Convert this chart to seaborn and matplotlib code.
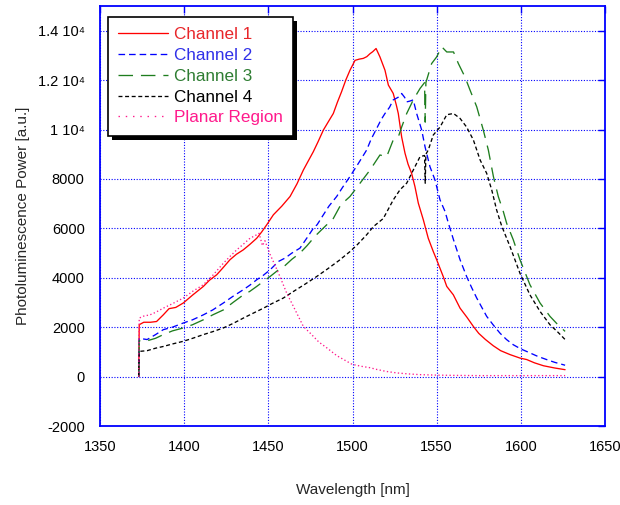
import matplotlib
matplotlib.use("Agg")
import matplotlib.pyplot as plt
from matplotlib.lines import Line2D
from matplotlib.patches import Rectangle
from matplotlib.ticker import FuncFormatter
import pandas as pd
import seaborn as sns

# ---- measured spectra: wavelength [nm] and photoluminescence power [a.u.] ----
wl_ch1 = [1373.0, 1373.3, 1376, 1380, 1383.6, 1387.6, 1391, 1395, 1399.5, 1405, 1411.4,
          1415, 1419.3, 1423, 1427.2, 1431, 1435.1, 1439, 1443.1, 1446, 1449, 1453,
          1458, 1462.9, 1467, 1470.8, 1473.5, 1476.7, 1479.5, 1482.7, 1485.5, 1488.6,
          1491, 1493.5, 1496, 1498.5, 1501.5, 1504, 1506.4, 1508.5, 1510.4, 1512,
          1514, 1516.3, 1519.3, 1521.3, 1524.2, 1526, 1527.2, 1529.2, 1531.2, 1533,
          1535.1, 1537.1, 1539.1, 1542.1, 1545, 1548, 1550, 1553.9, 1556, 1559.9,
          1563.9, 1568, 1571.8, 1575, 1579, 1583.6, 1588, 1593.6, 1599.5, 1603.5,
          1608, 1613.4, 1620, 1626.3]
pw_ch1 = [0, 2100, 2200, 2200, 2230, 2500, 2750, 2800, 2980, 3300, 3650,
          3900, 4120, 4400, 4730, 4950, 5130, 5350, 5600, 5850, 6140, 6550,
          6900, 7290, 7800, 8360, 8700, 9100, 9500, 9980, 10300, 10650,
          11100, 11530, 12000, 12400, 12800, 12850, 12880, 12950, 13070, 13150,
          13280, 12940, 12400, 11800, 11460, 11000, 10650, 9700, 9040, 8600,
          8230, 7690, 7020, 6340, 5600, 5060, 4730, 4050, 3650, 3310,
          2770, 2400, 2030, 1750, 1500, 1250, 1050, 890, 750, 690,
          560, 440, 350, 280]

wl_ch2 = [1373.0, 1373.3, 1378, 1383, 1387.6, 1393, 1399.5, 1405, 1411.4, 1417, 1423.3,
          1429, 1435.2, 1439, 1443.1, 1447, 1451, 1456, 1460, 1464, 1468.8, 1472.8,
          1476.7, 1479, 1482.7, 1486, 1490.6, 1494, 1498.5, 1503.5, 1508.4, 1511,
          1514.4, 1517, 1519.3, 1522, 1524.2, 1527, 1529.2, 1531, 1532.2, 1534,
          1536.1, 1538.1, 1541.1, 1543.1, 1546, 1549, 1552, 1555, 1557, 1560,
          1563.9, 1567.8, 1570.8, 1573.8, 1579.7, 1583.5, 1587.6, 1591.5, 1595.5,
          1600, 1605.4, 1610, 1615.3, 1620, 1626.3]
pw_ch2 = [0, 1550, 1500, 1700, 1900, 2000, 2170, 2300, 2500, 2700, 2980,
          3250, 3520, 3700, 3920, 4100, 4320, 4660, 4800, 5000, 5200, 5600,
          6000, 6150, 6550, 6900, 7290, 7650, 8100, 8630, 9170, 9600,
          10050, 10400, 10650, 10900, 11200, 11300, 11460, 11300, 11120, 11150,
          11200, 10650, 9980, 9300, 8500, 7960, 7150, 6680, 6200, 5540,
          4730, 4050, 3600, 3180, 2440, 2100, 1760, 1500, 1290,
          1120, 960, 820, 690, 580, 460]

wl_ch3 = [1373.0, 1373.3, 1378, 1383, 1387.6, 1393, 1399.5, 1405, 1411.4, 1417, 1423.3,
          1429, 1435.2, 1439, 1443.1, 1447, 1451, 1456, 1460, 1464, 1468.8, 1473,
          1478, 1484, 1488.6, 1493, 1498.5, 1504.5, 1510.4, 1516.3, 1520.3, 1524.2,
          1527.2, 1529.2, 1532.2, 1536.1, 1540.1, 1542.8, 1543.2, 1543.6, 1547, 1550,
          1553, 1556, 1560, 1562.9, 1566.8, 1569.8, 1573.8, 1577.7, 1580.7, 1583.7,
          1586.6, 1589.6, 1591.6, 1595.5, 1599.5, 1605.4, 1611.4, 1617.3, 1622, 1626.3]
pw_ch3 = [0, 1450, 1450, 1550, 1700, 1850, 1970, 2100, 2300, 2500, 2700,
          3000, 3310, 3450, 3650, 3850, 4050, 4320, 4500, 4750, 5000, 5300,
          5700, 6100, 6400, 6950, 7290, 7830, 8360, 8970, 8900, 9580,
          9700, 10100, 10650, 11200, 11660, 11900, 10300, 11900, 12670, 12940,
          13350, 13140, 13140, 12670, 12130, 11600, 10920, 9980, 9170, 8100,
          7290, 6680, 6200, 5540, 4730, 3720, 2980, 2440, 2100, 1830]

wl_ch4 = [1373.0, 1373.3, 1378, 1383, 1387.6, 1393, 1399.5, 1405, 1411.4, 1417, 1423.3,
          1429, 1435.2, 1439, 1447.1, 1452, 1458.9, 1465, 1472, 1478.7, 1485, 1492,
          1498.5, 1503, 1508.4, 1512.4, 1518.3, 1524.2, 1528.2, 1532.2, 1536.1,
          1540.1, 1542.8, 1543.2, 1543.6, 1545, 1548, 1552, 1556, 1560, 1563.9,
          1567.8, 1571.8, 1575.8, 1579.7, 1582.7, 1585.6, 1588.6, 1593.6, 1599.5,
          1605.4, 1611.4, 1617.3, 1622, 1626.3]
pw_ch4 = [0, 1020, 1050, 1150, 1220, 1320, 1430, 1550, 1700, 1820, 1970,
          2150, 2370, 2500, 2770, 2950, 3180, 3450, 3750, 4050, 4350, 4700,
          5060, 5350, 5740, 6070, 6400, 7150, 7560, 7830, 8360,
          8900, 8950, 7830, 9000, 9170, 9780, 10100, 10600, 10650, 10450,
          10100, 9580, 8770, 8230, 7560, 6750, 6100, 5260, 4180,
          3310, 2640, 2100, 1800, 1500]

wl_planar = [1373.0, 1373.3, 1376, 1379.7, 1383, 1387.6, 1393, 1399.5, 1405, 1411.4,
             1417, 1423.3, 1427, 1431.2, 1435, 1439.1, 1442, 1444.5, 1446.5, 1448,
             1451, 1454, 1456.9, 1460.9, 1464.9, 1470.8, 1475, 1480, 1485, 1490.6,
             1499.7, 1505, 1510.4, 1514.4, 1520, 1526.2, 1533, 1540, 1550, 1560,
             1575, 1590, 1605, 1615, 1626.3]
pw_planar = [0, 2370, 2450, 2500, 2600, 2770, 2950, 3180, 3450, 3720,
             4100, 4590, 4850, 5130, 5350, 5600, 5700, 5800, 5300, 5500,
             4950, 4500, 4050, 3380, 2840, 2030, 1750, 1400, 1150, 850,
             500, 420, 360, 290, 210, 150, 110, 80, 60, 50,
             40, 40, 40, 40, 40]

series_names = ["Channel 1", "Channel 2", "Channel 3", "Channel 4", "Planar Region"]
x_ticks = [1350, 1400, 1450, 1500, 1550, 1600, 1650]
y_ticks = [-2000, 0, 2000, 4000, 6000, 8000, 10000, 12000, 14000]

# ---- long-form table for seaborn ----
frames = []
for name, wl, pw in zip(series_names,
                        [wl_ch1, wl_ch2, wl_ch3, wl_ch4, wl_planar],
                        [pw_ch1, pw_ch2, pw_ch3, pw_ch4, pw_planar]):
    frames.append(pd.DataFrame({"wavelength": wl, "power": pw, "series": name}))
spectra = pd.concat(frames, ignore_index=True)

palette = {"Channel 1": "#ff0000", "Channel 2": "#0000ff", "Channel 3": "#1e7d1e",
           "Channel 4": "#000000", "Planar Region": "#ff1a8c"}
text_colors = ["#e8262a", "#3030e8", "#2e7d32", "#000000", "#ff1a8c"]
dashes = {"Channel 1": "", "Channel 2": (5, 3), "Channel 3": (11, 6),
          "Channel 4": (3, 2), "Planar Region": (1, 1.8)}
legend_dashes = {"Channel 1": None, "Channel 2": (5, 3), "Channel 3": (11, 6),
                 "Channel 4": (3, 2), "Planar Region": (1.1, 4.4)}

sns.set_style("white")
plt.rcParams["font.family"] = ["Liberation Sans", "DejaVu Sans"]

fig = plt.figure(figsize=(6.2, 5.05), dpi=100)
ax = fig.add_axes([0.1613, 0.1564, 0.8145, 0.8317])

sns.lineplot(data=spectra, x="wavelength", y="power", hue="series", style="series",
             hue_order=series_names, style_order=series_names,
             palette=palette, dashes=dashes, estimator=None, sort=False,
             linewidth=0.95, legend=False, ax=ax)

blue = "#0000ff"
ax.set_xlim(1350, 1650)
ax.set_ylim(-2000, 15000)
ax.set_xticks(x_ticks)
ax.set_yticks(y_ticks)


def power_label(v, _pos):
    if v >= 10000:
        return f"{v / 10000:g} 10\u2074"
    return f"{v:.0f}"


ax.yaxis.set_major_formatter(FuncFormatter(power_label))
ax.tick_params(direction="in", length=5, width=1.0, color=blue, labelcolor="black",
               labelsize=10.5, top=True, right=True)
ax.tick_params(axis="x", pad=10)
ax.tick_params(axis="y", pad=11)

ax.set_axisbelow(True)
ax.grid(True, color=blue, linestyle=(0, (1, 1.5)), linewidth=0.8)
for sp in ax.spines.values():
    sp.set_color(blue)
    sp.set_linewidth(1.3)

ax.set_xlabel("Wavelength [nm]", fontsize=11, labelpad=21)
ax.set_ylabel("Photoluminescence Power [a.u.]", fontsize=11, labelpad=5.5)

# legend keys with the same colours and dash patterns as the curves
handles = []
for name in series_names:
    h = Line2D([0], [0], color=palette[name], linewidth=0.95)
    if legend_dashes[name] is not None:
        h.set_dashes(legend_dashes[name])
    handles.append(h)

leg = ax.legend(handles, series_names, loc="upper left", bbox_to_anchor=(0.016, 0.974),
                borderaxespad=0, fontsize=12.3, frameon=True, fancybox=False,
                framealpha=1, edgecolor="black", borderpad=0.6, handlelength=2.9,
                handletextpad=0.35, labelspacing=0.34)
for txt, c in zip(leg.get_texts(), text_colors):
    txt.set_color(c)
leg.get_frame().set_linewidth(1.2)

# solid black drop shadow offset down-right of the legend box
fig.canvas.draw()
bb = leg.get_frame().get_window_extent()
ax.add_artist(Rectangle((bb.x0 + 4, bb.y0 - 4), bb.width, bb.height, transform=None,
                        facecolor="black", edgecolor="none", zorder=4.9))

fig.savefig("out.png", dpi=100)
